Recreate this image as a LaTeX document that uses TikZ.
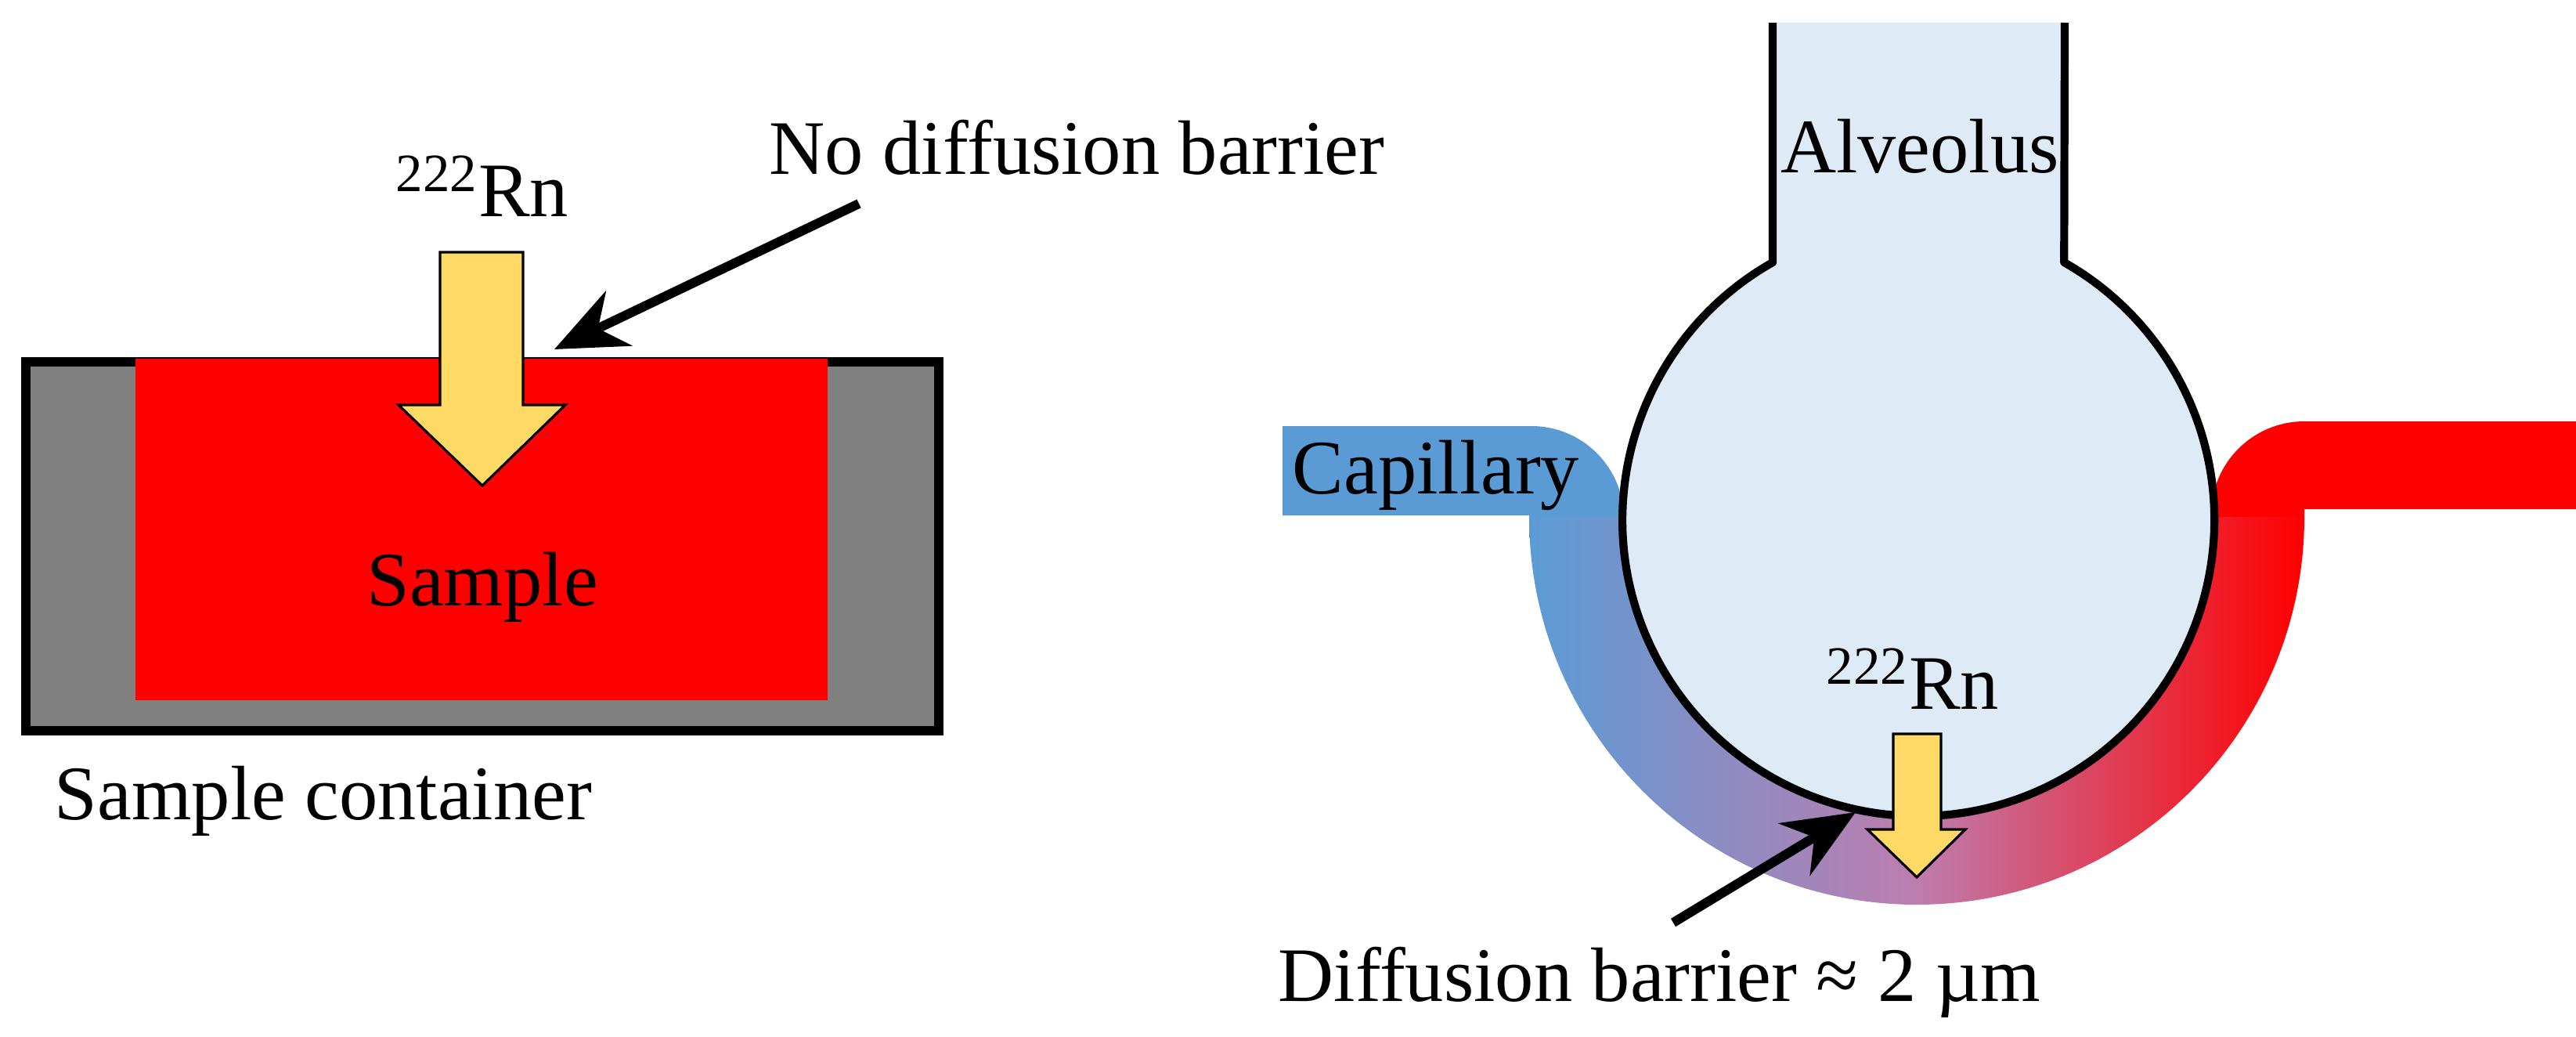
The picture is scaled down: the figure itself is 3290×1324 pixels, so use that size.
\documentclass[tikz,border=0pt]{standalone}
\usepackage{fontspec}
\setmainfont{Liberation Serif}
\usetikzlibrary{arrows.meta}
\definecolor{cblue}{HTML}{5B9BD5}
\definecolor{cmid}{RGB}{190,125,175}
\definecolor{alv}{HTML}{DEEAF6}
\definecolor{yel}{HTML}{FFD966}
\definecolor{cgray}{HTML}{808080}
\begin{document}
\begin{tikzpicture}[x=0.01cm,y=0.01cm,
  lbl/.style={inner sep=0pt,font=\fontsize{28}{30}\selectfont},
  yarrow/.style={fill=yel,draw=black,line width=0.9pt,line join=miter},
  pointer/.style={line width=3.4pt,-{Stealth[length=26pt,width=22pt]}}]
\useasboundingbox (0,0) rectangle (3290,-1324);
% ---- left: container and sample
\draw[fill=cgray,line width=3.4pt] (33,-462) rectangle (1199,-933);
\fill[red] (173,-457) rectangle (1057,-894);
\draw[line width=0.8pt] (173,-457) -- (1057,-457);
\draw[yarrow] (562,-322) -- (668,-322) -- (668,-517) -- (722,-517) -- (616,-620) -- (509,-517) -- (562,-517) -- cycle;
\node[lbl,anchor=base] (rnA) at (616,-276) {\textsuperscript{222}Rn};
\node[lbl,anchor=base] (sample) at (616,-773) {Sample};
\node[lbl,anchor=base west] (cont) at (69,-1046) {Sample container};
\node[lbl,anchor=base west] (nodiff) at (982,-222) {No diffusion barrier};
\coordinate (nA) at (1097,-260);
\coordinate (tA) at (708,-446);
\draw[pointer] (nA) -- (tA);
% ---- right: capillary
\fill[cblue] (1638,-544) -- (1956,-544) arc[start angle=90,end angle=0,radius=118] -- (2074,-664) -- (1953,-664) -- (1953,-658) -- (1638,-658) -- cycle;
\fill[red] (3290,-538) -- (2943,-538) arc[start angle=90,end angle=180,radius=119] -- (2824,-664) -- (2943,-664) -- (2943,-650) -- (3290,-650) -- cycle;
\shade[left color=cblue,right color=red,middle color=cmid]
  (1953,-660) arc[start angle=180,end angle=360,radius=495] -- (2826,-660) arc[start angle=0,end angle=-180,radius=378] -- cycle;
% alveolus
\fill[alv] (2264,-29) -- (2264,-335) arc[start angle=119.5,end angle=420.5,radius=378] -- (2637,-29) -- cycle;
\draw[line width=2.9pt,line join=round] (2264,-29) -- (2264,-335) arc[start angle=119.5,end angle=420.5,radius=378] -- (2637,-29);
\node[lbl,anchor=base] (alvtxt) at (2452,-220) {Alveolus};
\node[lbl,anchor=base west] (cap) at (1650,-630) {Capillary};
\node[lbl,anchor=base] (rnB) at (2443,-905) {\textsuperscript{222}Rn};
\draw[yarrow] (2418,-937) -- (2479,-937) -- (2479,-1059) -- (2510,-1059) -- (2448,-1120) -- (2385,-1059) -- (2418,-1059) -- cycle;
\node[lbl,anchor=base west] (diff) at (1632,-1278) {Diffusion barrier ≈ 2 µm};
\coordinate (nB) at (2137,-1178);
\coordinate (tB) at (2370,-1037);
\draw[pointer] (nB) -- (tB);
\end{tikzpicture}
\end{document}
